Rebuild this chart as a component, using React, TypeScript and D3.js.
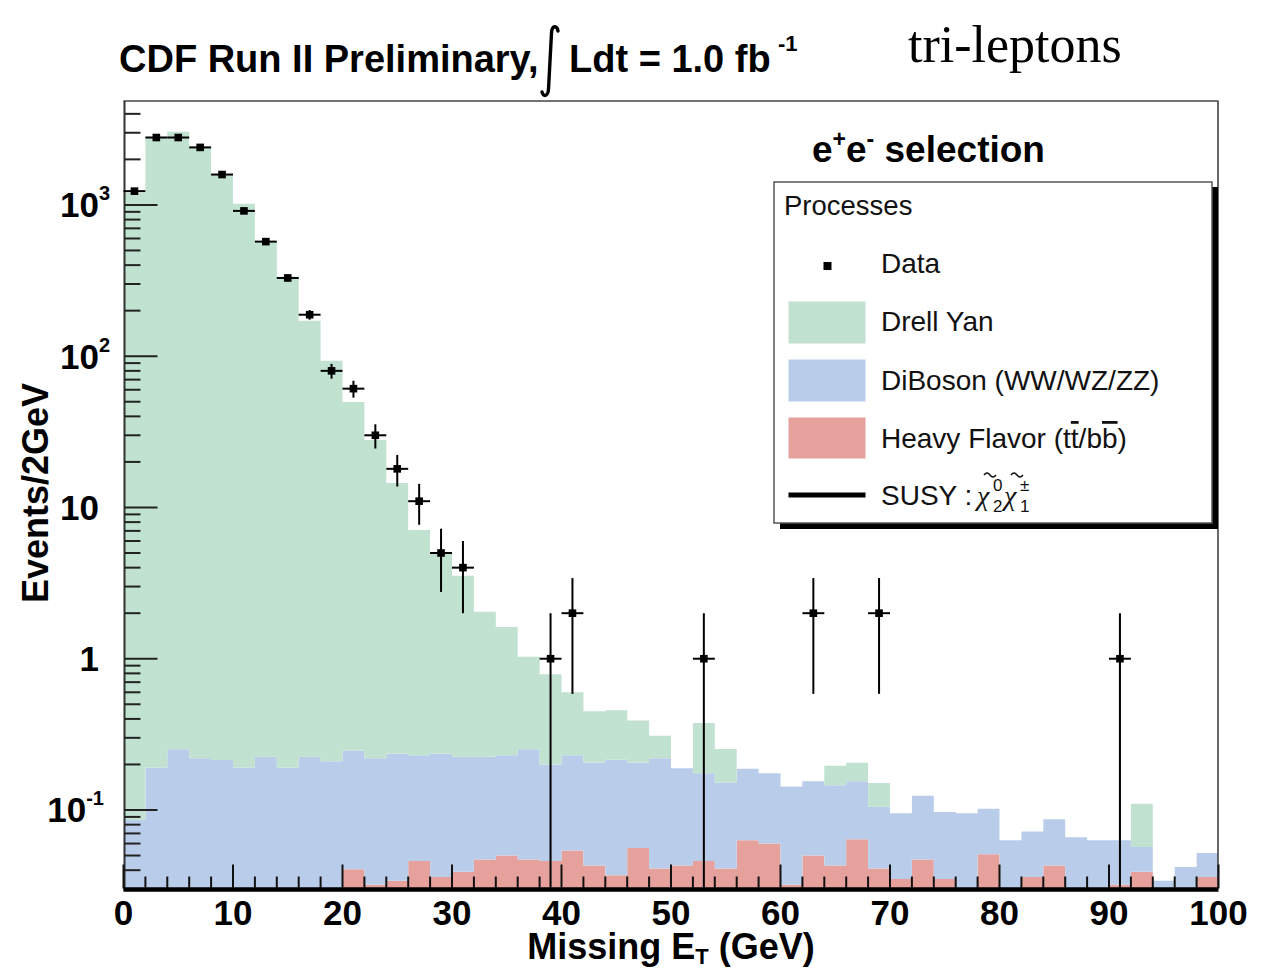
import React from 'react';
import * as d3 from 'd3';

// ---- data ----
const BIN_WIDTH = 2;
const binLow = d3.range(0, 100, BIN_WIDTH);

const drellYan = [
  1200, 2820, 3040, 2420, 1600, 1016, 578, 334, 171, 93,
  49.6, 27.7, 14.3, 6.87, 4.69, 3.31, 1.82, 1.39, 0.78, 0.59,
  0.37, 0.244, 0.241, 0.184, 0.09, 0, 0.201, 0.101, 0, 0,
  0, 0, 0.05, 0.05, 0.046, 0, 0, 0, 0, 0,
  0, 0, 0, 0, 0, 0, 0.053, 0, 0, 0,
];

const diBoson = [
  0.086, 0.191, 0.252, 0.22, 0.214, 0.191, 0.225, 0.191, 0.225, 0.21,
  0.207, 0.188, 0.202, 0.184, 0.2, 0.186, 0.178, 0.18, 0.205, 0.154,
  0.176, 0.163, 0.178, 0.15, 0.179, 0.146, 0.129, 0.111, 0.124, 0.115,
  0.111, 0.105, 0.103, 0.091, 0.064, 0.06, 0.077, 0.062, 0.095, 0.051,
  0.063, 0.036, 0.044, 0.066, 0.063, 0.031, 0.018, 0.034, 0.042, 0.016,
];

const heavyFlavor = [
  0, 0, 0, 0, 0, 0, 0, 0, 0, 0,
  0.0405, 0.032, 0.034, 0.046, 0.036, 0.039, 0.047, 0.05, 0.047, 0.046,
  0.054, 0.043, 0.037, 0.056, 0.041, 0.043, 0.046, 0.041, 0.063, 0.06,
  0.032, 0.05, 0.043, 0.064, 0.041, 0.035, 0.047, 0.035, 0, 0.051,
  0, 0.036, 0.043, 0, 0, 0.032, 0.039, 0, 0, 0.036,
];

const dataCounts = [
  1233, 2790, 2790, 2400, 1588, 913, 572, 329, 188, 80,
  61, 30, 18, 11, 5, 4, 0, 0, 0, 1,
  2, 0, 0, 0, 0, 0, 1, 0, 0, 0,
  0, 2, 0, 0, 2, 0, 0, 0, 0, 0,
  0, 0, 0, 0, 0, 1, 0, 0, 0, 0,
];

const xTickLabels = [0, 10, 20, 30, 40, 50, 60, 70, 80, 90, 100];
const yTickLabels = [
  { v: 0.1, base: '10', exp: '-1' },
  { v: 1, base: '1', exp: '' },
  { v: 10, base: '10', exp: '' },
  { v: 100, base: '10', exp: '2' },
  { v: 1000, base: '10', exp: '3' },
];

const COLORS = { dy: '#c1e2d1', db: '#b9cdea', hf: '#e6a19c' };

const W = 1266;
const H = 969;
const X0 = 123.5;
const X1 = 1218.5;
const YB = 888.5;
const YT = 101;

const SANS = "'Liberation Sans', Arial, sans-serif";
const SERIF = "'Liberation Serif', 'Times New Roman', serif";

export default function App() {
  const x = d3.scaleLinear().domain([0, 100]).range([X0, X1]);
  const y = d3
    .scaleLog()
    .domain([Math.pow(10, -1.519), Math.pow(10, 3.687)])
    .range([YB, YT]);
  const ymin = y.domain()[0];
  const ymax = y.domain()[1];

  const rows = binLow.map((lo, i) => ({
    lo,
    hf: heavyFlavor[i],
    db: diBoson[i],
    dy: drellYan[i],
  }));
  const layers = d3.stack<any>().keys(['hf', 'db', 'dy'])(rows);

  const area = d3
    .area<any>()
    .x((d) => x(d.x))
    .y0((d) => y(Math.max(d.y0, ymin)))
    .y1((d) => y(Math.max(d.y1, ymin)));

  const layerPaths = layers.map((layer) => {
    const pts: any[] = [];
    layer.forEach((s, i) => {
      const lo = binLow[i];
      pts.push({ x: lo, y0: s[0], y1: s[1] });
      pts.push({ x: lo + BIN_WIDTH, y0: s[0], y1: s[1] });
    });
    return { key: layer.key as string, d: area(pts) as string };
  });

  // y ticks (major + minor)
  const yTicks: { v: number; major: boolean }[] = [];
  for (let n = -2; n <= 3; n++) {
    for (let k = 1; k <= 9; k++) {
      const v = k * Math.pow(10, n);
      if (v >= ymin && v <= ymax) yTicks.push({ v, major: k === 1 });
    }
  }
  const xTicks = d3.range(0, 101, 2);

  const points = binLow
    .map((lo, i) => ({ c: lo + BIN_WIDTH / 2, lo, n: dataCounts[i] }))
    .filter((p) => p.n > 0);

  const yc = (v: number) => (v <= ymin ? YB : y(v));

  return (
    <svg
      width={W}
      height={H}
      viewBox={`0 0 ${W} ${H}`}
      style={{ position: 'absolute', left: 0, top: 0, display: 'block', background: '#fff' }}
    >
      <defs>
        <clipPath id="plotClip">
          <rect x={X0} y={YT} width={X1 - X0} height={YB - YT} />
        </clipPath>
      </defs>

      {/* title */}
      <text x={119} y={72} fontFamily={SANS} fontWeight="bold" fontSize={38} fill="#000">
        CDF Run II Preliminary,
      </text>
      <path
        d="M 558 31 C 557 25, 552 25, 551.5 33 L 548.5 89 C 548 97, 543 97, 542 92"
        fill="none"
        stroke="#000"
        strokeWidth={3.4}
        strokeLinecap="round"
      />
      <text x={569} y={72} fontFamily={SANS} fontWeight="bold" fontSize={38} fill="#000">
        Ldt = 1.0 fb
      </text>
      <text x={778} y={51} fontFamily={SANS} fontWeight="bold" fontSize={22} fill="#000">
        -1
      </text>
      <text x={908} y={62} fontFamily={SERIF} fontSize={52} fill="#000">
        tri-leptons
      </text>

      {/* stacked histograms */}
      <g clipPath="url(#plotClip)">
        {layerPaths.map((p) => (
          <path key={p.key} d={p.d} fill={(COLORS as any)[p.key]} stroke="none" />
        ))}
      </g>

      {/* frame */}
      <line x1={X0} x2={X1} y1={YT} y2={YT} stroke="#444" strokeWidth={1.6} />
      <line x1={X1 - 0.5} x2={X1 - 0.5} y1={YT} y2={YB} stroke="#444" strokeWidth={1.6} />
      <line x1={X0 + 1} x2={X0 + 1} y1={YT} y2={YB + 2} stroke="#333" strokeWidth={2} />

      {/* y ticks */}
      {yTicks.map((t, i) => (
        <line
          key={'yt' + i}
          x1={X0 + 1}
          x2={X0 + 1 + (t.major ? 33 : 16)}
          y1={y(t.v)}
          y2={y(t.v)}
          stroke="#222"
          strokeWidth={2}
        />
      ))}
      {/* x ticks */}
      {xTicks.map((v) => (
        <line
          key={'xt' + v}
          x1={x(v)}
          x2={x(v)}
          y1={YB}
          y2={YB - (v % 10 === 0 ? 24 : 12)}
          stroke="#111"
          strokeWidth={2}
        />
      ))}
      {/* bottom thick axis line */}
      <line x1={X0} x2={X1} y1={YB + 1} y2={YB + 1} stroke="#000" strokeWidth={4.5} />

      {/* data points */}
      <g stroke="#000" strokeWidth={2}>
        {points.map((p, i) => {
          const e = Math.sqrt(p.n);
          return (
            <g key={'pt' + i}>
              <line x1={x(p.c)} x2={x(p.c)} y1={yc(p.n + e)} y2={yc(p.n - e)} />
              <line x1={x(p.lo)} x2={x(p.lo + BIN_WIDTH)} y1={y(p.n)} y2={y(p.n)} />
            </g>
          );
        })}
      </g>
      {points.map((p, i) => (
        <rect key={'mk' + i} x={x(p.c) - 3.8} y={y(p.n) - 3.8} width={7.6} height={7.6} fill="#000" />
      ))}

      {/* x tick labels */}
      {xTickLabels.map((v) => (
        <text
          key={'xl' + v}
          x={x(v)}
          y={925}
          textAnchor="middle"
          fontFamily={SANS}
          fontWeight="bold"
          fontSize={35}
          fill="#000"
        >
          {v}
        </text>
      ))}
      {/* y tick labels */}
      {yTickLabels.map((t) => (
        <text
          key={'yl' + t.v}
          x={t.exp ? (t.exp.startsWith('-') ? 104 : 110) : 99}
          y={y(t.v) + 12.5}
          textAnchor="end"
          fontFamily={SANS}
          fontWeight="bold"
          fontSize={35}
          fill="#000"
        >
          {t.base}
          {t.exp ? (
            <tspan fontSize={20} dy={-17}>
              {t.exp}
            </tspan>
          ) : null}
        </text>
      ))}

      {/* axis titles */}
      <text
        transform="translate(48,493) rotate(-90)"
        textAnchor="middle"
        fontFamily={SANS}
        fontWeight="bold"
        fontSize={36}
        fill="#000"
      >
        Events/2GeV
      </text>
      <text x={671} y={959} textAnchor="middle" fontFamily={SANS} fontWeight="bold" fontSize={36} fill="#000">
        Missing E
        <tspan fontSize={22} dy={5}>
          T
        </tspan>
        <tspan dy={-5}> (GeV)</tspan>
      </text>

      {/* selection label */}
      <text x={812} y={162} fontFamily={SANS} fontWeight="bold" fontSize={37} fill="#000">
        e
        <tspan fontSize={23} dy={-15}>
          +
        </tspan>
        <tspan dy={15}>e</tspan>
        <tspan fontSize={23} dy={-15}>
          -
        </tspan>
        <tspan dy={15}> selection</tspan>
      </text>

      {/* legend */}
      <rect x={780} y={187} width={438} height={342} fill="#000" />
      <rect x={774} y={182} width={438} height={341} fill="#fff" stroke="#555" strokeWidth={1.5} />
      <g fontFamily={SANS} fontSize={28} fill="#111">
        <text x={784} y={215} fontSize={27.5}>
          Processes
        </text>
        <rect x={823.5} y={262} width={8} height={8} fill="#000" />
        <text x={881} y={273}>
          Data
        </text>
        <rect x={788.5} y={301.5} width={77} height={42} fill={COLORS.dy} />
        <text x={881} y={331}>
          Drell Yan
        </text>
        <rect x={788.5} y={359.5} width={77} height={42} fill={COLORS.db} />
        <text x={881} y={390}>
          DiBoson (WW/WZ/ZZ)
        </text>
        <rect x={788.5} y={417.5} width={77} height={41} fill={COLORS.hf} />
        <text x={881} y={448}>
          Heavy Flavor (t
          <tspan style={{ textDecoration: 'overline' }}>t</tspan>/b
          <tspan style={{ textDecoration: 'overline' }}>b</tspan>)
        </text>
        <line x1={788.5} x2={865.5} y1={495} y2={495} stroke="#000" strokeWidth={5} />
        <text x={881} y={505}>
          SUSY :
        </text>
        <text x={977} y={505} fontFamily={SERIF} fontStyle="italic" fontSize={28}>
          χ
        </text>
        <text x={993} y={491} fontSize={17}>
          0
        </text>
        <text x={993} y={512} fontSize={17}>
          2
        </text>
        <text x={1004} y={505} fontFamily={SERIF} fontStyle="italic" fontSize={28}>
          χ
        </text>
        <text x={1020} y={491} fontSize={17}>
          ±
        </text>
        <text x={1020} y={512} fontSize={17}>
          1
        </text>
        <path d="M 984 475 q 3 -4 6 0 t 6 0" fill="none" stroke="#111" strokeWidth={1.4} />
        <path d="M 1011 475 q 3 -4 6 0 t 6 0" fill="none" stroke="#111" strokeWidth={1.4} />
      </g>
    </svg>
  );
}
